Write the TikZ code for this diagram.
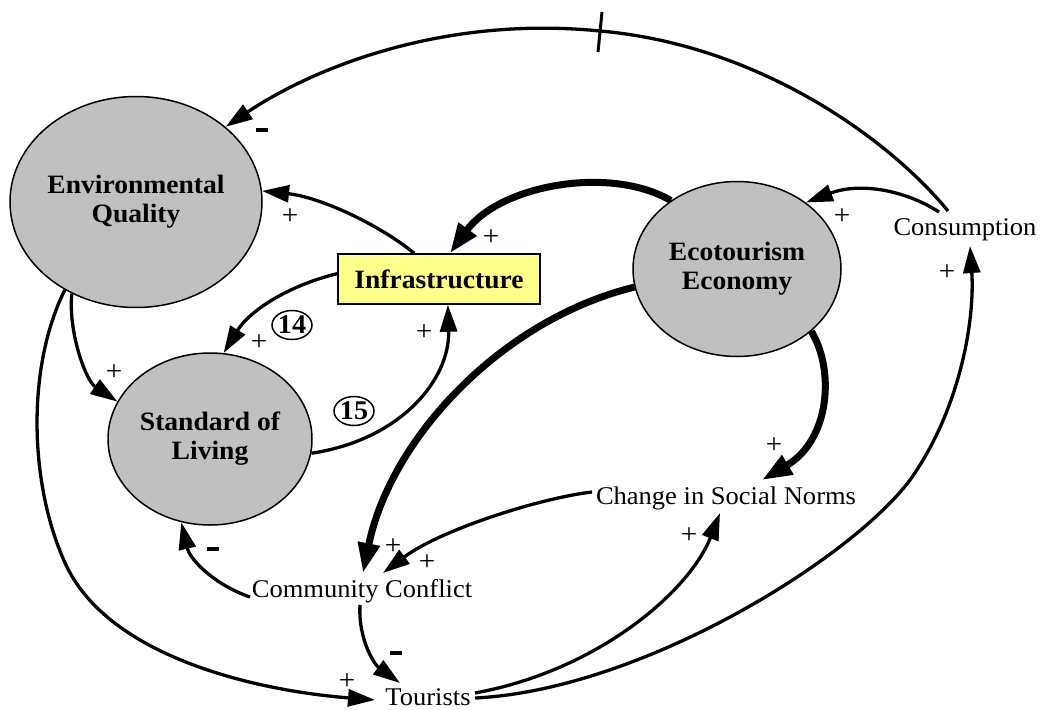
\documentclass[tikz,border=0pt]{standalone}
\usepackage{fontspec}
\setmainfont{Liberation Serif}[FakeStretch=1.04]
\usetikzlibrary{arrows.meta,shapes.geometric}
\definecolor{vgray}{RGB}{192,192,192}
\definecolor{infyellow}{RGB}{255,255,140}
\begin{document}
\begin{tikzpicture}[x=1pt,y=-1pt,
  var/.style={ellipse,draw,line width=1.5pt,fill=vgray,inner sep=0pt,align=center,
    font=\bfseries\fontsize{26.5}{29}\selectfont},
  lbl/.style={inner sep=0pt,anchor=base,font=\fontsize{25.5}{30}\selectfont},
  link/.style={line width=3.3pt,-{Triangle[length=27pt,width=17pt]}},
  biglink/.style={line width=7pt,-{Triangle[length=30pt,width=21pt]}},
  polplus/.style={inner sep=0pt,font=\fontsize{28}{28}\selectfont},
  polminus/.style={inner sep=0pt},
  loopno/.style={ellipse,draw,line width=1.5pt,minimum width=40pt,minimum height=29pt,
    inner sep=0pt,font=\bfseries\fontsize{27}{27}\selectfont}
]
\useasboundingbox (0,0) rectangle (1040,709);

% variables
\node[var,minimum width=252pt,minimum height=211pt] (eq) at (136,202) {Environmental\\Quality};
\node[var,minimum width=208pt,minimum height=175pt] (eco) at (737,269) {Ecotourism\\Economy};
\node[var,minimum width=204pt,minimum height=172pt] (sol) at (210,439) {Standard of\\Living};
\node[draw,line width=1.5pt,fill=infyellow,minimum width=202pt,minimum height=50pt,inner sep=0pt,
  font=\bfseries\fontsize{26.5}{29}\selectfont] (inf) at (439,279) {Infrastructure};
\node[lbl] (cons) at (965,235) {Consumption};
\node[lbl] (csn) at (726,504) {Change in Social Norms};
\node[lbl] (cc) at (362,597) {Community Conflict};
\node[lbl] (tour) at (428,705) {Tourists};

% loop markers
\node[loopno] (l14) at (292,325) {14};
\node[loopno] (l15) at (354,411) {15};

% Consumption -> Environmental Quality (with delay mark)
\coordinate (top) at (600,31);
\draw[link] ([shift={(-17,-24)}]cons.base) .. controls (890,140) and (760,45) .. (top)
  .. controls (440,15) and (310,70) .. (eq.40);
\coordinate (tk1) at (602,12);
\coordinate (tk2) at (598,52);
\draw[line width=3pt] (tk1) -- (tk2);

% Consumption -> Ecotourism Economy
\draw[link] ([shift={(-26,-23)}]cons.base) .. controls (905,190) and (860,182) .. (eco.44);

% Ecotourism -> Infrastructure
\draw[biglink] (eco.134.6) .. controls (610,165) and (500,185) .. (inf.67);

% Infrastructure -> Environmental Quality
\draw[link] (inf.134) .. controls (380,225) and (320,197) .. (eq.5.4);

% Infrastructure -> Standard of Living
\draw[link] (inf.177) .. controls (290,285) and (250,310) .. (sol.81.3);

% Standard of Living -> Infrastructure
\draw[link] (sol.-8.8) .. controls (400,440) and (450,380) .. (inf.289);

% Environmental Quality -> Standard of Living
\draw[link] (eq.235.5) .. controls (68,330) and (85,380) .. (sol.158);

% Environmental Quality -> Tourists
\coordinate (lowleft) at (67,567);
\draw[link] (eq.231) .. controls (25,370) and (30,490) .. (lowleft)
  .. controls (110,655) and (250,690) .. ([shift={(-53,-5)}]tour.base);

% Ecotourism -> Community Conflict
\draw[biglink] (eco.190) .. controls (500,320) and (390,440) .. ([shift={(1,-24)}]cc.base);

% Ecotourism -> Change in Social Norms
\draw[biglink] (eco.320) .. controls (835,370) and (830,440) .. ([shift={(36,-24)}]csn.base);

% Change in Social Norms -> Community Conflict
\draw[link] ([shift={(-134,-12)}]csn.base) .. controls (540,498) and (440,530) .. ([shift={(21,-24)}]cc.base);

% Community Conflict -> Standard of Living
\draw[link] ([shift={(-112,0)}]cc.base) .. controls (215,585) and (190,560) .. (sol.251.6);

% Community Conflict -> Tourists
\draw[link] ([shift={(-2,8)}]cc.base) .. controls (358,640) and (375,665) .. ([shift={(-28,-22)}]tour.base);

% Tourists -> Change in Social Norms
\draw[link] ([shift={(47,-12)}]tour.base) .. controls (600,670) and (690,590) .. ([shift={(-6,9)}]csn.base);

% Tourists -> Consumption
\coordinate (lowright) at (910,480);
\draw[link] ([shift={(47,-7)}]tour.base) .. controls (640,690) and (850,560) .. (lowright)
  .. controls (960,410) and (975,320) .. ([shift={(5,11)}]cons.base);

% polarities
\node[polminus] (p1) at (262,130) {\rule{12pt}{4pt}};
\node[polplus] (p2) at (290,217) {+};
\node[polplus] (p3) at (491,238) {+};
\node[polplus] (p4) at (259,343) {+};
\node[polplus] (p5) at (424,333) {+};
\node[polplus] (p6) at (842,217) {+};
\node[polplus] (p7) at (947,273) {+};
\node[polplus] (p8) at (114,373) {+};
\node[polminus] (p9) at (213,549) {\rule{12pt}{4pt}};
\node[polplus] (p10) at (393,547) {+};
\node[polplus] (p11) at (427,563) {+};
\node[polminus] (p12) at (396,653) {\rule{12pt}{4pt}};
\node[polplus] (p13) at (347,682) {+};
\node[polplus] (p14) at (774,446) {+};
\node[polplus] (p15) at (689,536) {+};
\end{tikzpicture}
\end{document}
